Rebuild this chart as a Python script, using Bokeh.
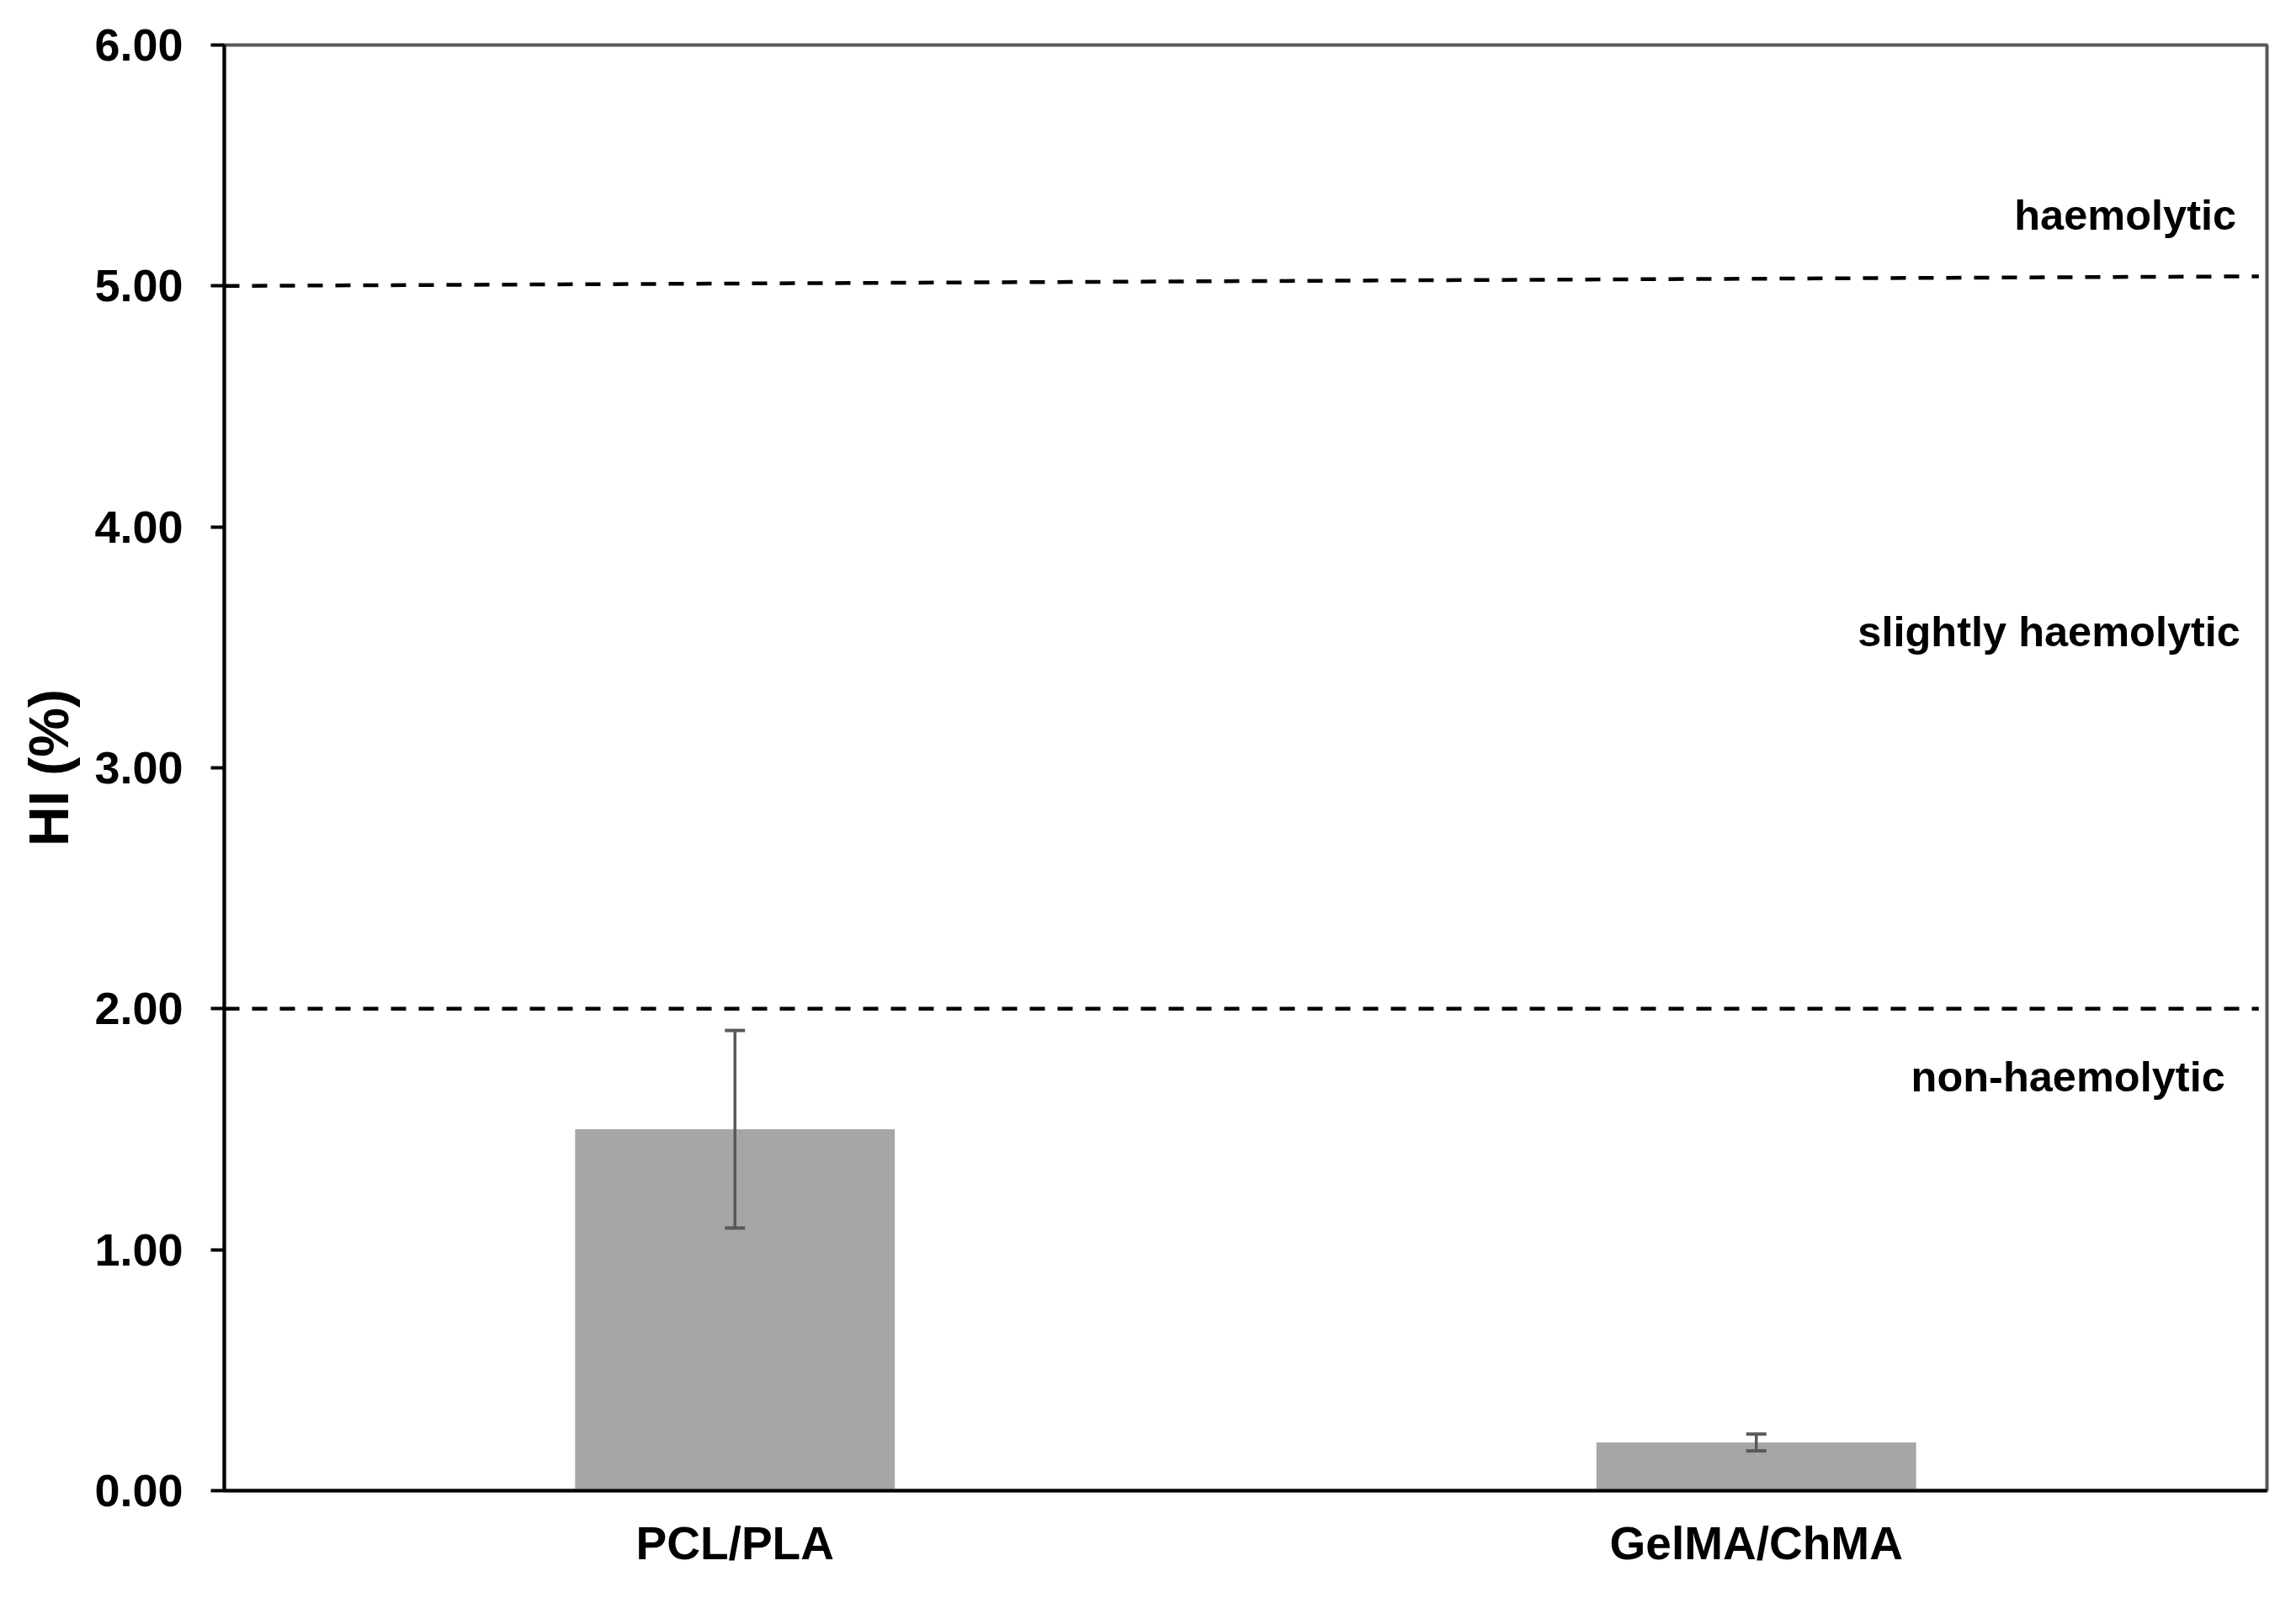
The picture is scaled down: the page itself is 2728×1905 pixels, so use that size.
from bokeh.plotting import figure
from bokeh.models import (ColumnDataSource, FactorRange, Range1d, FixedTicker,
                          NumeralTickFormatter, Whisker, TeeHead)
from bokeh.core.properties import value
from bokeh.embed import file_html
from bokeh.resources import INLINE

# ---- data ----
categories = ["PCL/PLA", "GelMA/ChMA"]
hi_values = [1.50, 0.20]
hi_errors = [0.41, 0.035]
y_ticks = [0, 1, 2, 3, 4, 5, 6]

threshold_start = [2.0, 5.0]
threshold_end = [2.0, 5.04]

zone_labels = ["haemolytic", "slightly haemolytic", "non-haemolytic"]
zone_label_y = [5.295, 3.565, 1.72]
zone_label_x = [1.970, 1.974, 1.959]

FONT = "Liberation Sans"

p = figure(x_range=FactorRange(factors=categories, range_padding=0),
           y_range=Range1d(0, 6),
           frame_width=2427, frame_height=1718,
           min_border_left=266, min_border_top=53,
           min_border_right=27, min_border_bottom=118,
           output_backend="svg", toolbar_location=None,
           background_fill_color="white", border_fill_color="white")

src = ColumnDataSource(dict(
    cat=categories, val=hi_values,
    upper=[v + e for v, e in zip(hi_values, hi_errors)],
    lower=[v - e for v, e in zip(hi_values, hi_errors)]))

p.vbar(x="cat", top="val", width=0.313, bottom=0, source=src,
       fill_color="#A6A6A6", line_color=None)

w = Whisker(base="cat", upper="upper", lower="lower", source=src,
            line_color="#595959", line_width=3.5, level="overlay",
            upper_head=TeeHead(size=24, line_color="#595959", line_width=4),
            lower_head=TeeHead(size=24, line_color="#595959", line_width=4))
p.add_layout(w)

p.segment(x0=[0, 0], y0=threshold_start, x1=[1.992, 1.992], y1=threshold_end,
          line_color="black", line_width=4.5, line_dash="18 15")

p.text(x=zone_label_x, y=zone_label_y, text=zone_labels,
       text_font=value(FONT), text_font_style="bold", text_font_size="50.5px",
       text_align="right", text_baseline="alphabetic", text_color="black")

# outline
p.outline_line_color = "#595959"
p.outline_line_width = 4

p.xgrid.grid_line_color = None
p.ygrid.grid_line_color = None

# y axis
p.yaxis.ticker = FixedTicker(ticks=y_ticks)
p.yaxis.formatter = NumeralTickFormatter(format="0.00")
p.yaxis.axis_line_color = "black"
p.yaxis.axis_line_width = 4
p.yaxis.major_tick_line_width = 4
p.yaxis.major_tick_line_color = "black"
p.yaxis.major_tick_in = 0
p.yaxis.major_tick_out = 16
p.yaxis.minor_tick_line_color = None
p.yaxis.major_label_standoff = 33
p.yaxis.major_label_text_font = FONT
p.yaxis.major_label_text_font_style = "bold"
p.yaxis.major_label_text_font_size = "54px"
p.yaxis.major_label_text_color = "black"
p.yaxis.axis_label = "HI (%)"
p.yaxis.axis_label_text_font = FONT
p.yaxis.axis_label_text_font_style = "bold"
p.yaxis.axis_label_text_font_size = "66px"
p.yaxis.axis_label_text_color = "black"
p.yaxis.axis_label_standoff = 14

# x axis
p.xaxis.axis_line_color = "black"
p.xaxis.axis_line_width = 4
p.xaxis.major_tick_line_color = None
p.xaxis.major_tick_in = 0
p.xaxis.major_tick_out = 0
p.xaxis.minor_tick_line_color = None
p.xaxis.major_label_standoff = 31
p.xaxis.major_label_text_font = FONT
p.xaxis.major_label_text_font_style = "bold"
p.xaxis.major_label_text_font_size = "55px"
p.xaxis.major_label_text_color = "black"

open("out.html", "w").write(file_html(p, INLINE))
